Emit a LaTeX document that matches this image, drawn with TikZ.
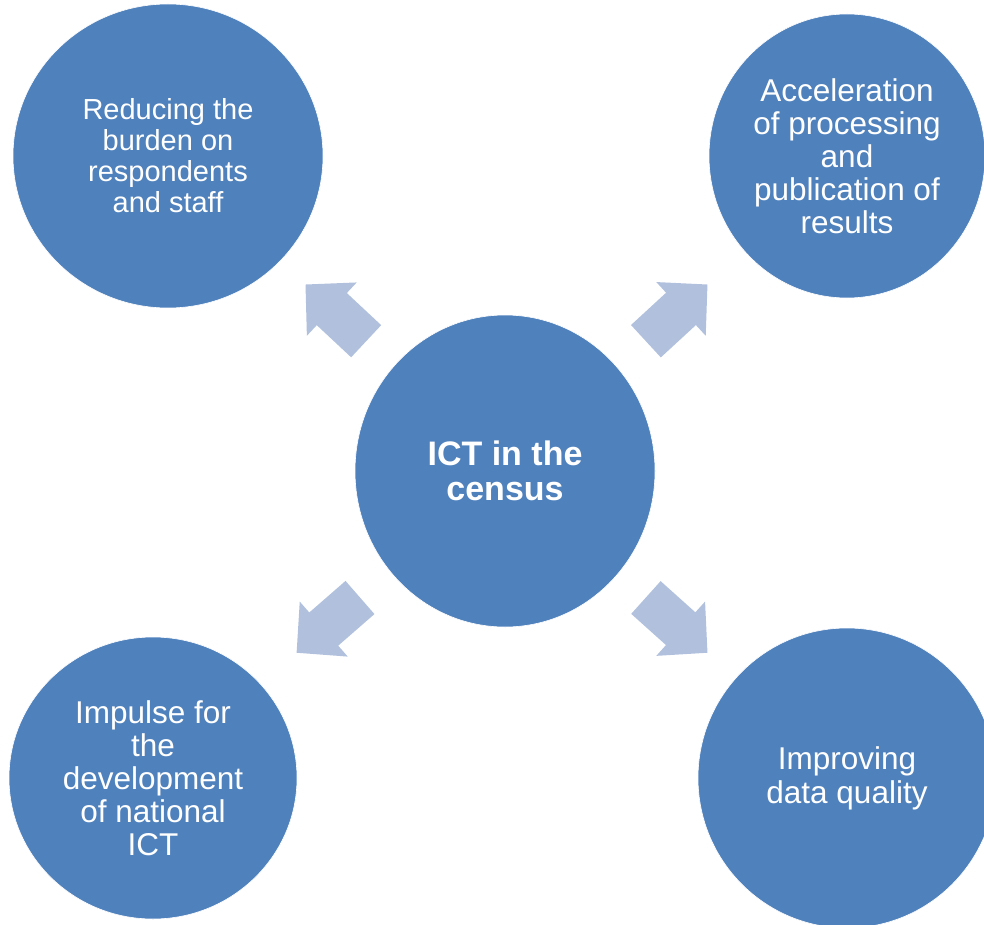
\documentclass[tikz,border=0pt]{standalone}
\usepackage{fontspec}
\setmainfont{Liberation Sans}
\usetikzlibrary{shapes.geometric,calc}
\definecolor{circblue}{RGB}{79,129,189}
\definecolor{arrblue}{RGB}{177,193,221}
\tikzset{
  bubble/.style={ellipse, fill=circblue, draw=white, line width=0.6pt, inner sep=0pt, text=white, align=center},
  blockarrow/.style={fill=arrblue, draw=none},
}
\newcommand{\blockarr}[2]{%
  \coordinate (T) at ($(#1)!0.412!(#2)$);
  \coordinate (A) at ($(#1)!0.592!(#2)$);
  \coordinate (H) at ($(A)!36pt!(T)$);
  \fill[blockarrow] ($(T)!22pt!90:(A)$) -- ($(H)!22pt!90:(A)$) -- ($(H)!36.5pt!90:(A)$) -- (A)
     -- ($(H)!36.5pt!-90:(A)$) -- ($(H)!22pt!-90:(A)$) -- ($(T)!22pt!-90:(A)$) -- cycle;
}
\begin{document}
\begin{tikzpicture}[x=1pt,y=-1pt]
\useasboundingbox (0,0) rectangle (984,925);
\clip (0,0) rectangle (984,925);
\fill[white] (0,0) rectangle (984,925);
\node[bubble, minimum width=300pt, minimum height=312pt, font=\bfseries\fontsize{34}{35}\selectfont] (c) at (505,471) {ICT in the\\census};
\node[bubble, minimum width=310pt, minimum height=304pt, font=\fontsize{29}{31}\selectfont] (tl) at (168,156) {Reducing the\\burden on\\respondents\\and staff};
\node[bubble, minimum width=276pt, minimum height=284pt, font=\fontsize{31.5}{33}\selectfont] (tr) at (847,156) {Acceleration\\of processing\\and\\publication of\\results};
\node[bubble, minimum width=288pt, minimum height=282pt, font=\fontsize{31.5}{33}\selectfont] (bl) at (153,778) {Impulse for\\the\\development\\of national\\ICT};
\node[bubble, minimum width=298pt, minimum height=300pt, font=\fontsize{31.5}{34}\selectfont] (br) at (847,778) {Improving\\data quality};
\blockarr{c}{tl}
\blockarr{c}{tr}
\blockarr{c}{bl}
\blockarr{c}{br}
\end{tikzpicture}
\end{document}
